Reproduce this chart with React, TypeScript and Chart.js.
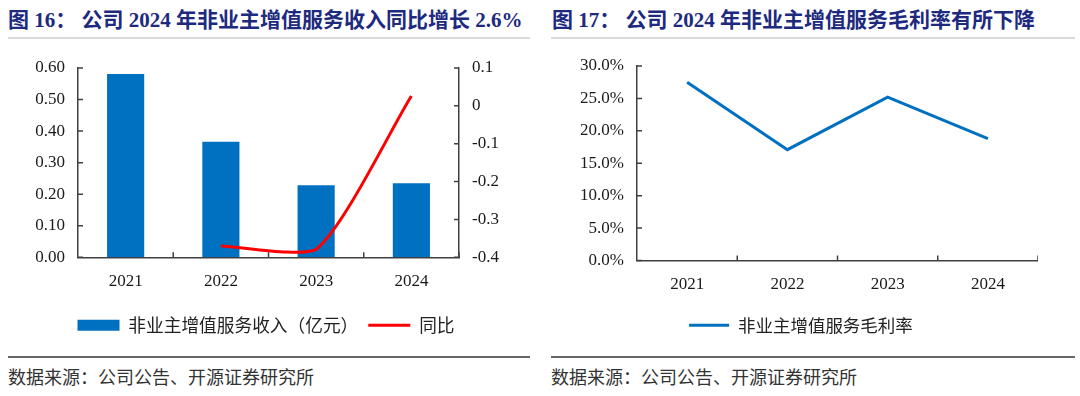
import React, { useEffect, useRef } from "react";
import { Chart, registerables } from "chart.js";

Chart.register(...registerables);

// ---------- data ----------
const years = ["2021", "2022", "2023", "2024"];
const revenue = [0.581, 0.366, 0.228, 0.235]; // 亿元
const yoy = [null, -0.37, -0.379, 0.026];
const grossMargin = [27.5, 17.1, 25.2, 18.8]; // %

const leftTitle = "图 16： 公司 2024 年非业主增值服务收入同比增长 2.6%";
const rightTitle = "图 17： 公司 2024 年非业主增值服务毛利率有所下降";
const sourceText = "数据来源：公司公告、开源证券研究所";
const revenueLabel = "非业主增值服务收入（亿元）";
const yoyLabel = "同比";
const marginLabel = "非业主增值服务毛利率";

// ---------- styles ----------
const BLUE = "#0070C0";
const RED = "#FF0000";
const AXIS = "#404040";
const TITLE = "#1D2A80";
const TICK_FONT = { family: "'Liberation Serif', 'Times New Roman', serif", size: 17 };
const CJK = "'Noto Sans CJK SC', 'Noto Sans', sans-serif";

const innerTicks = {
  id: "innerTicks",
  afterDraw(chart: any) {
    const { ctx } = chart;
    const len = 5;
    ctx.save();
    ctx.strokeStyle = AXIS;
    ctx.lineWidth = 1.5;
    ctx.beginPath();
    Object.values(chart.scales).forEach((s: any) => {
      if (s.axis === "y") {
        const left = s.position === "left";
        const x = left ? s.right : s.left;
        s.ticks.forEach((_: any, i: number) => {
          const y = s.getPixelForTick(i);
          ctx.moveTo(x, y);
          ctx.lineTo(x + (left ? len : -len), y);
        });
      } else {
        const y = s.top;
        for (let i = 1; i <= s.ticks.length; i++) {
          const x = s.getPixelForValue(i - 0.5);
          ctx.moveTo(x, y);
          ctx.lineTo(x, y - len);
        }
      }
    });
    ctx.stroke();
    ctx.restore();
  },
};

function ChartCanvas({ config, width, height }: { config: () => any; width: number; height: number }) {
  const ref = useRef<HTMLCanvasElement | null>(null);
  useEffect(() => {
    if (!ref.current) return;
    const chart = new Chart(ref.current, config());
    return () => chart.destroy();
  }, []);
  return <canvas ref={ref} width={width} height={height} style={{ display: "block", width, height }} />;
}

const leftConfig = () => ({
  type: "bar",
  data: {
    labels: years,
    datasets: [
      {
        type: "line",
        label: yoyLabel,
        data: yoy,
        yAxisID: "y1",
        borderColor: RED,
        backgroundColor: RED,
        borderWidth: 3,
        tension: 0.22,
        pointRadius: 0,
        pointHoverRadius: 0,
        pointStyle: "line",
        pointBorderWidth: 3,
        pointBorderColor: RED,
        order: 0,
      },
      {
        type: "bar",
        label: revenueLabel,
        data: revenue,
        yAxisID: "y",
        backgroundColor: BLUE,
        borderWidth: 0,
        categoryPercentage: 1,
        barPercentage: 0.39,
        pointStyle: "rect",
        order: 1,
      },
    ],
  },
  options: {
    responsive: false,
    animation: false,
    layout: { padding: { top: 28, left: 0, right: 0, bottom: 0 } },
    plugins: {
      legend: {
        position: "bottom",
        reverse: true,
        labels: {
          usePointStyle: true,
          pointStyleWidth: 42,
          boxHeight: 11,
          padding: 10,
          color: "#222",
          font: { family: CJK, size: 17.7 },
        },
      },
      tooltip: { enabled: false },
    },
    scales: {
      x: {
        type: "category",
        offset: true,
        grid: { display: false, drawTicks: false },
        border: { display: true, color: AXIS, width: 1.5 },
        ticks: { color: "#1a1a1a", font: TICK_FONT, padding: 14 },
        afterFit: (s: any) => {
          s.height = 49;
        },
      },
      y: {
        position: "left",
        min: 0,
        max: 0.6,
        grid: { display: false, drawTicks: false },
        border: { display: true, color: AXIS, width: 1.5 },
        ticks: {
          stepSize: 0.1,
          color: "#1a1a1a",
          font: TICK_FONT,
          padding: 13,
          callback: (v: any) => Number(v).toFixed(2),
        },
        afterFit: (s: any) => {
          s.width = 78;
        },
      },
      y1: {
        position: "right",
        min: -0.4,
        max: 0.1,
        grid: { display: false, drawTicks: false },
        border: { display: true, color: AXIS, width: 1.5 },
        ticks: {
          stepSize: 0.1,
          color: "#1a1a1a",
          font: TICK_FONT,
          padding: 13,
          callback: (v: any) => {
            const n = Math.round(Number(v) * 10) / 10;
            return n === 0 ? "0" : n.toFixed(1);
          },
        },
        afterFit: (s: any) => {
          s.width = 73;
        },
      },
    },
  },
  plugins: [innerTicks],
});

const rightConfig = () => ({
  type: "line",
  data: {
    labels: years,
    datasets: [
      {
        label: marginLabel,
        data: grossMargin,
        borderColor: BLUE,
        backgroundColor: BLUE,
        borderWidth: 3,
        tension: 0,
        pointRadius: 0,
        pointHoverRadius: 0,
        pointStyle: "line",
        pointBorderWidth: 3,
        pointBorderColor: BLUE,
      },
    ],
  },
  options: {
    responsive: false,
    animation: false,
    layout: { padding: { top: 26, left: 0, right: 0, bottom: 0 } },
    plugins: {
      legend: {
        position: "bottom",
        labels: {
          usePointStyle: true,
          pointStyleWidth: 40,
          boxHeight: 11,
          padding: 10,
          color: "#222",
          font: { family: CJK, size: 17.5 },
        },
      },
      tooltip: { enabled: false },
    },
    scales: {
      x: {
        type: "category",
        offset: true,
        grid: { display: false, drawTicks: false },
        border: { display: true, color: AXIS, width: 1.5 },
        ticks: { color: "#1a1a1a", font: TICK_FONT, padding: 14 },
        afterFit: (s: any) => {
          s.height = 46;
        },
      },
      y: {
        position: "left",
        min: 0,
        max: 30,
        grid: { display: false, drawTicks: false },
        border: { display: true, color: AXIS, width: 1.5 },
        ticks: {
          stepSize: 5,
          color: "#1a1a1a",
          font: TICK_FONT,
          padding: 13,
          callback: (v: any) => Number(v).toFixed(1) + "%",
        },
        afterFit: (s: any) => {
          s.width = 73;
        },
      },
    },
  },
  plugins: [innerTicks],
});

const abs = (o: any) => ({ position: "absolute", ...o });

export default function App() {
  const titleStyle = {
    fontFamily: "'Liberation Serif', 'Noto Sans CJK SC', serif",
    fontWeight: "bold",
    fontSize: 21,
    lineHeight: "22px",
    color: TITLE,
    whiteSpace: "pre",
  };
  const srcStyle = {
    fontFamily: CJK,
    fontSize: 18,
    lineHeight: "20px",
    color: "#333",
    whiteSpace: "nowrap",
  };
  return (
    <div style={abs({ left: 0, top: 0, width: 1080, height: 396, background: "#fff", overflow: "hidden" })}>
      <div style={abs({ left: 8, top: 9, ...titleStyle })}>{leftTitle}</div>
      <div style={abs({ left: 552, top: 9, ...titleStyle })}>{rightTitle}</div>
      <div style={abs({ left: 8, top: 37, width: 522, height: 2, background: "#d9d9d9" })} />
      <div style={abs({ left: 551, top: 37, width: 524, height: 2, background: "#d9d9d9" })} />

      <div style={abs({ left: 0, top: 40 })}>
        <ChartCanvas config={leftConfig} width={532} height={304} />
      </div>
      <div style={abs({ left: 564, top: 40 })}>
        <ChartCanvas config={rightConfig} width={474} height={304} />
      </div>

      <div style={abs({ left: 8, top: 356, width: 522, height: 2, background: "#666" })} />
      <div style={abs({ left: 551, top: 356, width: 524, height: 2, background: "#666" })} />
      <div style={abs({ left: 8, top: 366, ...srcStyle })}>{sourceText}</div>
      <div style={abs({ left: 551, top: 366, ...srcStyle })}>{sourceText}</div>
    </div>
  );
}
